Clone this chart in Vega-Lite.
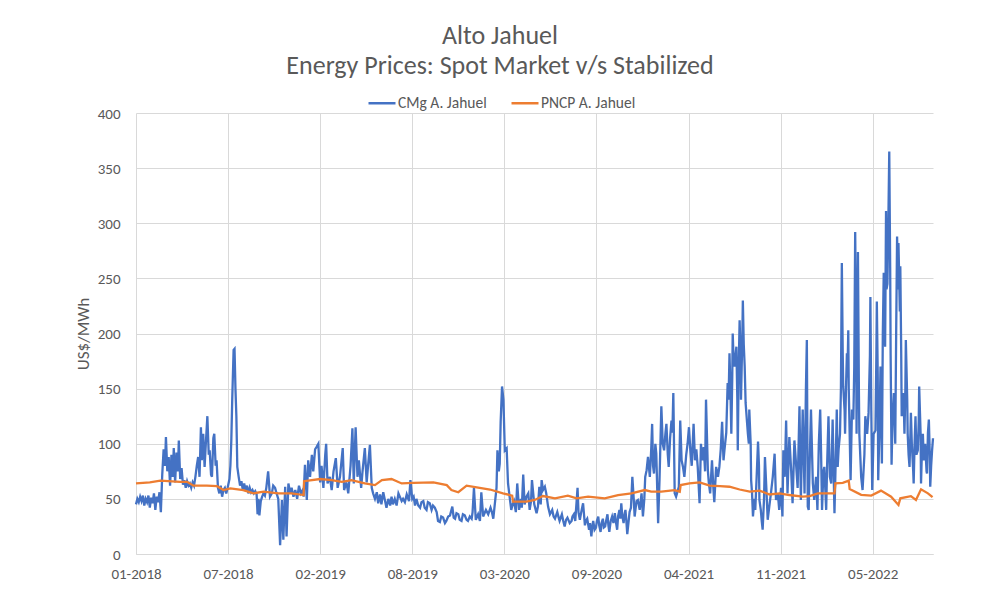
{
"$schema":"https://vega.github.io/schema/vega-lite/v6.json",
"width":797,"height":441,
"autosize":{"type":"none"},
"padding":{"left":136,"top":113,"right":59,"bottom":61},
"background":"white",
"config":{"font":"Carlito, Lato, sans-serif","view":{"stroke":null}},
"title":{"text":["Alto Jahuel","Energy Prices: Spot Market v/s Stabilized"],"anchor":"middle","frame":"group","fontSize":26,"fontWeight":"normal","color":"#595959","lineHeight":30,"dx":-34.5,"offset":9},
"datasets":{
"cmg":[
{"d":"2018-01-01","v":45},{"d":"2018-01-04","v":50},{"d":"2018-01-07","v":47},{"d":"2018-01-10","v":52},{"d":"2018-01-13","v":48},{"d":"2018-01-16","v":53},{"d":"2018-01-19","v":44},{"d":"2018-01-22","v":50},{"d":"2018-01-25","v":47},{"d":"2018-01-28","v":53},{"d":"2018-01-31","v":42},{"d":"2018-02-03","v":51},{"d":"2018-02-06","v":46},{"d":"2018-02-09","v":55},{"d":"2018-02-12","v":40},{"d":"2018-02-15","v":52},{"d":"2018-02-18","v":47},{"d":"2018-02-21","v":56},{"d":"2018-02-24","v":38},{"d":"2018-02-27","v":72},{"d":"2018-03-02","v":95},{"d":"2018-03-05","v":80},{"d":"2018-03-07","v":106},{"d":"2018-03-10","v":75},{"d":"2018-03-13","v":88},{"d":"2018-03-16","v":62},{"d":"2018-03-19","v":90},{"d":"2018-03-22","v":70},{"d":"2018-03-24","v":96},{"d":"2018-03-27","v":65},{"d":"2018-03-30","v":92},{"d":"2018-04-02","v":75},{"d":"2018-04-04","v":103},{"d":"2018-04-07","v":68},{"d":"2018-04-10","v":78},{"d":"2018-04-13","v":63},{"d":"2018-04-16","v":67},{"d":"2018-04-19","v":60},{"d":"2018-04-22","v":66},{"d":"2018-04-25","v":62},{"d":"2018-04-28","v":64},{"d":"2018-05-01","v":60},{"d":"2018-05-04","v":65},{"d":"2018-05-07","v":62},{"d":"2018-05-10","v":70},{"d":"2018-05-13","v":80},{"d":"2018-05-16","v":88},{"d":"2018-05-19","v":70},{"d":"2018-05-22","v":115},{"d":"2018-05-24","v":85},{"d":"2018-05-27","v":109},{"d":"2018-05-30","v":79},{"d":"2018-06-01","v":95},{"d":"2018-06-05","v":125},{"d":"2018-06-08","v":90},{"d":"2018-06-10","v":94},{"d":"2018-06-13","v":72},{"d":"2018-06-15","v":70},{"d":"2018-06-18","v":105},{"d":"2018-06-20","v":109},{"d":"2018-06-23","v":80},{"d":"2018-06-25","v":85},{"d":"2018-06-28","v":60},{"d":"2018-07-01","v":55},{"d":"2018-07-04","v":62},{"d":"2018-07-07","v":52},{"d":"2018-07-10","v":58},{"d":"2018-07-13","v":60},{"d":"2018-07-16","v":55},{"d":"2018-07-19","v":60},{"d":"2018-07-23","v":68},{"d":"2018-07-25","v":80},{"d":"2018-07-27","v":103},{"d":"2018-07-29","v":140},{"d":"2018-08-01","v":185},{"d":"2018-08-03","v":186},{"d":"2018-08-05","v":150},{"d":"2018-08-07","v":125},{"d":"2018-08-09","v":79},{"d":"2018-08-12","v":70},{"d":"2018-08-15","v":62},{"d":"2018-08-18","v":66},{"d":"2018-08-21","v":58},{"d":"2018-08-24","v":64},{"d":"2018-08-27","v":57},{"d":"2018-08-30","v":62},{"d":"2018-09-02","v":55},{"d":"2018-09-05","v":60},{"d":"2018-09-08","v":56},{"d":"2018-09-11","v":58},{"d":"2018-09-14","v":55},{"d":"2018-09-17","v":57},{"d":"2018-09-20","v":54},{"d":"2018-09-22","v":36},{"d":"2018-09-24","v":50},{"d":"2018-09-26","v":35},{"d":"2018-09-29","v":48},{"d":"2018-10-02","v":52},{"d":"2018-10-05","v":55},{"d":"2018-10-08","v":53},{"d":"2018-10-11","v":60},{"d":"2018-10-15","v":75},{"d":"2018-10-19","v":52},{"d":"2018-10-23","v":55},{"d":"2018-10-26","v":62},{"d":"2018-10-30","v":60},{"d":"2018-11-03","v":54},{"d":"2018-11-06","v":50},{"d":"2018-11-10","v":8},{"d":"2018-11-14","v":49},{"d":"2018-11-17","v":13},{"d":"2018-11-21","v":61},{"d":"2018-11-24","v":16},{"d":"2018-11-28","v":64},{"d":"2018-12-02","v":55},{"d":"2018-12-05","v":60},{"d":"2018-12-09","v":52},{"d":"2018-12-13","v":58},{"d":"2018-12-17","v":50},{"d":"2018-12-21","v":62},{"d":"2018-12-25","v":55},{"d":"2018-12-29","v":58},{"d":"2018-12-31","v":52},{"d":"2019-01-03","v":81},{"d":"2019-01-07","v":49},{"d":"2019-01-10","v":85},{"d":"2019-01-14","v":70},{"d":"2019-01-18","v":90},{"d":"2019-01-21","v":75},{"d":"2019-01-25","v":95},{"d":"2019-01-28","v":97},{"d":"2019-02-01","v":100},{"d":"2019-02-05","v":65},{"d":"2019-02-08","v":80},{"d":"2019-02-12","v":60},{"d":"2019-02-16","v":90},{"d":"2019-02-18","v":100},{"d":"2019-02-21","v":64},{"d":"2019-02-26","v":70},{"d":"2019-03-02","v":58},{"d":"2019-03-06","v":75},{"d":"2019-03-11","v":87},{"d":"2019-03-15","v":60},{"d":"2019-03-20","v":70},{"d":"2019-03-26","v":96},{"d":"2019-03-29","v":58},{"d":"2019-04-03","v":65},{"d":"2019-04-07","v":55},{"d":"2019-04-12","v":80},{"d":"2019-04-16","v":114},{"d":"2019-04-19","v":64},{"d":"2019-04-23","v":115},{"d":"2019-04-27","v":70},{"d":"2019-04-30","v":85},{"d":"2019-05-05","v":60},{"d":"2019-05-08","v":75},{"d":"2019-05-13","v":96},{"d":"2019-05-17","v":65},{"d":"2019-05-20","v":80},{"d":"2019-05-24","v":99},{"d":"2019-05-28","v":60},{"d":"2019-05-31","v":55},{"d":"2019-06-04","v":50},{"d":"2019-06-08","v":56},{"d":"2019-06-11","v":46},{"d":"2019-06-15","v":54},{"d":"2019-06-18","v":45},{"d":"2019-06-22","v":56},{"d":"2019-06-26","v":48},{"d":"2019-06-29","v":42},{"d":"2019-07-03","v":50},{"d":"2019-07-07","v":44},{"d":"2019-07-10","v":52},{"d":"2019-07-13","v":45},{"d":"2019-07-17","v":50},{"d":"2019-07-21","v":44},{"d":"2019-07-25","v":55},{"d":"2019-07-28","v":52},{"d":"2019-08-01","v":48},{"d":"2019-08-04","v":50},{"d":"2019-08-08","v":47},{"d":"2019-08-12","v":54},{"d":"2019-08-17","v":48},{"d":"2019-08-20","v":67},{"d":"2019-08-24","v":50},{"d":"2019-08-27","v":52},{"d":"2019-08-30","v":44},{"d":"2019-09-02","v":50},{"d":"2019-09-06","v":44},{"d":"2019-09-10","v":42},{"d":"2019-09-13","v":47},{"d":"2019-09-17","v":48},{"d":"2019-09-20","v":42},{"d":"2019-09-24","v":40},{"d":"2019-09-27","v":47},{"d":"2019-10-01","v":46},{"d":"2019-10-05","v":40},{"d":"2019-10-08","v":44},{"d":"2019-10-12","v":42},{"d":"2019-10-16","v":38},{"d":"2019-10-19","v":30},{"d":"2019-10-23","v":29},{"d":"2019-10-26","v":34},{"d":"2019-10-30","v":33},{"d":"2019-11-03","v":28},{"d":"2019-11-06","v":30},{"d":"2019-11-10","v":34},{"d":"2019-11-14","v":35},{"d":"2019-11-19","v":43},{"d":"2019-11-22","v":33},{"d":"2019-11-25","v":32},{"d":"2019-11-28","v":37},{"d":"2019-12-02","v":36},{"d":"2019-12-05","v":31},{"d":"2019-12-09","v":30},{"d":"2019-12-12","v":36},{"d":"2019-12-16","v":35},{"d":"2019-12-20","v":31},{"d":"2019-12-23","v":30},{"d":"2019-12-27","v":34},{"d":"2019-12-31","v":32},{"d":"2020-01-02","v":38},{"d":"2020-01-05","v":60},{"d":"2020-01-09","v":31},{"d":"2020-01-12","v":34},{"d":"2020-01-14","v":36},{"d":"2020-01-18","v":30},{"d":"2020-01-21","v":56},{"d":"2020-01-25","v":34},{"d":"2020-01-28","v":37},{"d":"2020-01-31","v":40},{"d":"2020-02-05","v":36},{"d":"2020-02-10","v":42},{"d":"2020-02-13","v":38},{"d":"2020-02-16","v":32},{"d":"2020-02-19","v":44},{"d":"2020-02-23","v":60},{"d":"2020-02-25","v":94},{"d":"2020-02-28","v":75},{"d":"2020-03-01","v":82},{"d":"2020-03-03","v":120},{"d":"2020-03-06","v":152},{"d":"2020-03-09","v":140},{"d":"2020-03-12","v":94},{"d":"2020-03-16","v":96},{"d":"2020-03-19","v":64},{"d":"2020-03-23","v":50},{"d":"2020-03-26","v":40},{"d":"2020-03-29","v":45},{"d":"2020-04-01","v":48},{"d":"2020-04-05","v":38},{"d":"2020-04-08","v":64},{"d":"2020-04-12","v":40},{"d":"2020-04-16","v":50},{"d":"2020-04-18","v":42},{"d":"2020-04-21","v":72},{"d":"2020-04-24","v":45},{"d":"2020-04-28","v":52},{"d":"2020-05-02","v":55},{"d":"2020-05-05","v":40},{"d":"2020-05-08","v":48},{"d":"2020-05-10","v":67},{"d":"2020-05-15","v":45},{"d":"2020-05-20","v":37},{"d":"2020-05-23","v":43},{"d":"2020-05-26","v":61},{"d":"2020-05-29","v":45},{"d":"2020-05-31","v":67},{"d":"2020-06-03","v":58},{"d":"2020-06-07","v":61},{"d":"2020-06-10","v":55},{"d":"2020-06-14","v":43},{"d":"2020-06-18","v":36},{"d":"2020-06-23","v":40},{"d":"2020-06-26","v":34},{"d":"2020-06-29","v":32},{"d":"2020-07-04","v":38},{"d":"2020-07-07","v":33},{"d":"2020-07-09","v":30},{"d":"2020-07-14","v":36},{"d":"2020-07-17","v":30},{"d":"2020-07-20","v":25},{"d":"2020-07-23","v":31},{"d":"2020-07-26","v":33},{"d":"2020-07-31","v":28},{"d":"2020-08-04","v":30},{"d":"2020-08-06","v":34},{"d":"2020-08-09","v":36},{"d":"2020-08-12","v":30},{"d":"2020-08-17","v":60},{"d":"2020-08-19","v":38},{"d":"2020-08-22","v":31},{"d":"2020-08-25","v":38},{"d":"2020-08-29","v":46},{"d":"2020-09-02","v":26},{"d":"2020-09-04","v":30},{"d":"2020-09-07","v":32},{"d":"2020-09-11","v":22},{"d":"2020-09-13","v":28},{"d":"2020-09-16","v":16},{"d":"2020-09-18","v":25},{"d":"2020-09-20","v":30},{"d":"2020-09-23","v":22},{"d":"2020-09-26","v":24},{"d":"2020-09-28","v":30},{"d":"2020-10-01","v":34},{"d":"2020-10-03","v":26},{"d":"2020-10-06","v":20},{"d":"2020-10-08","v":28},{"d":"2020-10-11","v":32},{"d":"2020-10-13","v":24},{"d":"2020-10-16","v":25},{"d":"2020-10-18","v":30},{"d":"2020-10-21","v":36},{"d":"2020-10-23","v":26},{"d":"2020-10-25","v":20},{"d":"2020-10-28","v":30},{"d":"2020-10-31","v":34},{"d":"2020-11-03","v":28},{"d":"2020-11-06","v":37},{"d":"2020-11-08","v":30},{"d":"2020-11-11","v":22},{"d":"2020-11-13","v":34},{"d":"2020-11-16","v":40},{"d":"2020-11-18","v":32},{"d":"2020-11-20","v":46},{"d":"2020-11-22","v":35},{"d":"2020-11-25","v":28},{"d":"2020-11-27","v":36},{"d":"2020-11-29","v":40},{"d":"2020-12-01","v":30},{"d":"2020-12-03","v":18},{"d":"2020-12-06","v":30},{"d":"2020-12-08","v":38},{"d":"2020-12-11","v":42},{"d":"2020-12-14","v":70},{"d":"2020-12-17","v":50},{"d":"2020-12-19","v":34},{"d":"2020-12-23","v":48},{"d":"2020-12-26","v":49},{"d":"2020-12-30","v":40},{"d":"2021-01-03","v":55},{"d":"2021-01-06","v":34},{"d":"2021-01-09","v":50},{"d":"2021-01-11","v":70},{"d":"2021-01-14","v":76},{"d":"2021-01-17","v":88},{"d":"2021-01-21","v":70},{"d":"2021-01-24","v":95},{"d":"2021-01-26","v":118},{"d":"2021-01-28","v":80},{"d":"2021-01-30","v":73},{"d":"2021-02-02","v":100},{"d":"2021-02-04","v":91},{"d":"2021-02-06","v":60},{"d":"2021-02-08","v":28},{"d":"2021-02-11","v":67},{"d":"2021-02-15","v":134},{"d":"2021-02-18","v":100},{"d":"2021-02-21","v":94},{"d":"2021-02-24","v":110},{"d":"2021-02-26","v":118},{"d":"2021-03-01","v":90},{"d":"2021-03-03","v":79},{"d":"2021-03-06","v":105},{"d":"2021-03-09","v":121},{"d":"2021-03-11","v":110},{"d":"2021-03-13","v":146},{"d":"2021-03-16","v":55},{"d":"2021-03-19","v":52},{"d":"2021-03-23","v":58},{"d":"2021-03-25","v":61},{"d":"2021-03-28","v":121},{"d":"2021-03-31","v":85},{"d":"2021-04-03","v":79},{"d":"2021-04-06","v":70},{"d":"2021-04-10","v":90},{"d":"2021-04-13","v":100},{"d":"2021-04-16","v":115},{"d":"2021-04-19","v":94},{"d":"2021-04-22","v":80},{"d":"2021-04-26","v":118},{"d":"2021-04-29","v":85},{"d":"2021-05-02","v":95},{"d":"2021-05-05","v":79},{"d":"2021-05-09","v":46},{"d":"2021-05-12","v":100},{"d":"2021-05-15","v":85},{"d":"2021-05-18","v":97},{"d":"2021-05-21","v":75},{"d":"2021-05-23","v":140},{"d":"2021-05-27","v":76},{"d":"2021-05-29","v":65},{"d":"2021-06-01","v":55},{"d":"2021-06-03","v":70},{"d":"2021-06-05","v":85},{"d":"2021-06-08","v":60},{"d":"2021-06-10","v":47},{"d":"2021-06-14","v":79},{"d":"2021-06-18","v":70},{"d":"2021-06-21","v":79},{"d":"2021-06-24","v":95},{"d":"2021-06-27","v":120},{"d":"2021-06-30","v":85},{"d":"2021-07-02","v":94},{"d":"2021-07-06","v":110},{"d":"2021-07-09","v":155},{"d":"2021-07-11","v":140},{"d":"2021-07-13","v":182},{"d":"2021-07-15","v":150},{"d":"2021-07-17","v":109},{"d":"2021-07-19","v":160},{"d":"2021-07-20","v":200},{"d":"2021-07-22","v":175},{"d":"2021-07-24","v":170},{"d":"2021-07-26","v":180},{"d":"2021-07-28","v":188},{"d":"2021-07-30","v":140},{"d":"2021-07-31","v":94},{"d":"2021-08-02","v":170},{"d":"2021-08-04","v":212},{"d":"2021-08-06","v":180},{"d":"2021-08-07","v":140},{"d":"2021-08-10","v":200},{"d":"2021-08-11","v":230},{"d":"2021-08-13","v":190},{"d":"2021-08-15","v":170},{"d":"2021-08-17","v":137},{"d":"2021-08-20","v":120},{"d":"2021-08-22","v":109},{"d":"2021-08-24","v":100},{"d":"2021-08-25","v":131},{"d":"2021-08-28","v":100},{"d":"2021-08-29","v":67},{"d":"2021-08-31","v":55},{"d":"2021-09-02","v":34},{"d":"2021-09-05","v":50},{"d":"2021-09-07","v":40},{"d":"2021-09-10","v":70},{"d":"2021-09-13","v":102},{"d":"2021-09-15","v":80},{"d":"2021-09-16","v":49},{"d":"2021-09-19","v":40},{"d":"2021-09-21","v":30},{"d":"2021-09-23","v":22},{"d":"2021-09-26","v":50},{"d":"2021-09-28","v":88},{"d":"2021-10-01","v":60},{"d":"2021-10-04","v":31},{"d":"2021-10-08","v":45},{"d":"2021-10-11","v":55},{"d":"2021-10-15","v":70},{"d":"2021-10-19","v":91},{"d":"2021-10-22","v":49},{"d":"2021-10-26","v":55},{"d":"2021-10-29","v":40},{"d":"2021-11-02","v":60},{"d":"2021-11-05","v":34},{"d":"2021-11-07","v":94},{"d":"2021-11-10","v":70},{"d":"2021-11-13","v":121},{"d":"2021-11-16","v":55},{"d":"2021-11-20","v":106},{"d":"2021-11-24","v":75},{"d":"2021-11-27","v":46},{"d":"2021-12-01","v":103},{"d":"2021-12-05","v":79},{"d":"2021-12-08","v":60},{"d":"2021-12-12","v":134},{"d":"2021-12-15","v":49},{"d":"2021-12-19","v":131},{"d":"2021-12-23","v":55},{"d":"2021-12-26","v":150},{"d":"2021-12-28","v":194},{"d":"2021-12-30","v":43},{"d":"2022-01-01","v":40},{"d":"2022-01-03","v":80},{"d":"2022-01-06","v":131},{"d":"2022-01-10","v":64},{"d":"2022-01-13","v":49},{"d":"2022-01-17","v":70},{"d":"2022-01-20","v":40},{"d":"2022-01-23","v":100},{"d":"2022-01-26","v":131},{"d":"2022-01-28","v":90},{"d":"2022-01-30","v":40},{"d":"2022-02-02","v":75},{"d":"2022-02-04","v":79},{"d":"2022-02-08","v":40},{"d":"2022-02-10","v":80},{"d":"2022-02-13","v":125},{"d":"2022-02-16","v":70},{"d":"2022-02-19","v":64},{"d":"2022-02-22","v":122},{"d":"2022-02-26","v":37},{"d":"2022-03-01","v":90},{"d":"2022-03-03","v":131},{"d":"2022-03-05","v":79},{"d":"2022-03-07","v":95},{"d":"2022-03-10","v":109},{"d":"2022-03-12","v":150},{"d":"2022-03-14","v":264},{"d":"2022-03-16","v":180},{"d":"2022-03-17","v":152},{"d":"2022-03-20","v":130},{"d":"2022-03-21","v":109},{"d":"2022-03-23","v":150},{"d":"2022-03-25","v":182},{"d":"2022-03-26","v":160},{"d":"2022-03-28","v":203},{"d":"2022-03-29","v":150},{"d":"2022-03-31","v":109},{"d":"2022-04-02","v":67},{"d":"2022-04-05","v":131},{"d":"2022-04-08","v":122},{"d":"2022-04-10","v":170},{"d":"2022-04-12","v":292},{"d":"2022-04-14","v":200},{"d":"2022-04-15","v":109},{"d":"2022-04-18","v":274},{"d":"2022-04-20","v":150},{"d":"2022-04-21","v":109},{"d":"2022-04-25","v":70},{"d":"2022-04-28","v":58},{"d":"2022-05-02","v":90},{"d":"2022-05-04","v":125},{"d":"2022-05-08","v":109},{"d":"2022-05-11","v":128},{"d":"2022-05-14","v":180},{"d":"2022-05-15","v":233},{"d":"2022-05-17","v":130},{"d":"2022-05-19","v":58},{"d":"2022-05-22","v":109},{"d":"2022-05-26","v":112},{"d":"2022-05-28","v":180},{"d":"2022-05-29","v":229},{"d":"2022-05-31","v":160},{"d":"2022-06-01","v":67},{"d":"2022-06-04","v":120},{"d":"2022-06-06","v":170},{"d":"2022-06-09","v":82},{"d":"2022-06-11","v":200},{"d":"2022-06-13","v":255},{"d":"2022-06-14","v":220},{"d":"2022-06-16","v":188},{"d":"2022-06-18","v":311},{"d":"2022-06-19","v":240},{"d":"2022-06-21","v":245},{"d":"2022-06-23","v":300},{"d":"2022-06-25","v":365},{"d":"2022-06-27","v":260},{"d":"2022-06-28","v":180},{"d":"2022-06-30","v":81},{"d":"2022-07-02","v":120},{"d":"2022-07-05","v":146},{"d":"2022-07-08","v":100},{"d":"2022-07-10","v":200},{"d":"2022-07-12","v":288},{"d":"2022-07-14","v":240},{"d":"2022-07-15","v":282},{"d":"2022-07-18","v":220},{"d":"2022-07-19","v":261},{"d":"2022-07-21","v":180},{"d":"2022-07-22","v":125},{"d":"2022-07-24","v":140},{"d":"2022-07-26","v":146},{"d":"2022-07-28","v":109},{"d":"2022-07-30","v":150},{"d":"2022-07-31","v":194},{"d":"2022-08-03","v":140},{"d":"2022-08-04","v":109},{"d":"2022-08-06","v":90},{"d":"2022-08-08","v":79},{"d":"2022-08-10","v":110},{"d":"2022-08-11","v":128},{"d":"2022-08-13","v":100},{"d":"2022-08-16","v":75},{"d":"2022-08-17","v":64},{"d":"2022-08-19","v":100},{"d":"2022-08-21","v":125},{"d":"2022-08-23","v":90},{"d":"2022-08-26","v":94},{"d":"2022-08-28","v":120},{"d":"2022-08-29","v":152},{"d":"2022-09-01","v":110},{"d":"2022-09-02","v":64},{"d":"2022-09-04","v":95},{"d":"2022-09-06","v":109},{"d":"2022-09-08","v":85},{"d":"2022-09-11","v":100},{"d":"2022-09-14","v":75},{"d":"2022-09-15","v":73},{"d":"2022-09-17","v":110},{"d":"2022-09-19","v":122},{"d":"2022-09-21","v":90},{"d":"2022-09-22","v":61},{"d":"2022-09-24","v":80},{"d":"2022-09-26","v":94},{"d":"2022-09-28","v":105}
],
"pncp":[
{"d":"2018-01-01","v":64},{"d":"2018-01-31","v":65},{"d":"2018-02-23","v":66.5},{"d":"2018-04-07","v":65.5},{"d":"2018-04-22","v":65.5},{"d":"2018-05-06","v":62},{"d":"2018-06-04","v":62},{"d":"2018-06-26","v":61.5},{"d":"2018-07-10","v":58},{"d":"2018-07-25","v":59.5},{"d":"2018-08-22","v":58},{"d":"2018-09-13","v":55},{"d":"2018-10-05","v":56.5},{"d":"2018-11-06","v":55},{"d":"2018-12-05","v":55},{"d":"2018-12-31","v":53.5},{"d":"2019-01-01","v":66},{"d":"2019-02-05","v":68},{"d":"2019-03-02","v":67},{"d":"2019-03-24","v":65.5},{"d":"2019-04-14","v":67},{"d":"2019-05-13","v":64},{"d":"2019-06-04","v":62.5},{"d":"2019-06-19","v":67},{"d":"2019-07-10","v":68},{"d":"2019-08-01","v":64},{"d":"2019-08-26","v":64.5},{"d":"2019-10-09","v":65},{"d":"2019-11-07","v":62.5},{"d":"2019-11-17","v":58},{"d":"2019-12-02","v":56},{"d":"2019-12-20","v":62},{"d":"2020-01-11","v":60.5},{"d":"2020-02-09","v":58.5},{"d":"2020-03-08","v":55},{"d":"2020-03-23","v":53.5},{"d":"2020-03-28","v":53},{"d":"2020-03-30","v":47.5},{"d":"2020-04-28","v":47.5},{"d":"2020-05-16","v":49},{"d":"2020-06-03","v":52.6},{"d":"2020-06-29","v":50.5},{"d":"2020-07-27","v":53},{"d":"2020-08-15","v":50.5},{"d":"2020-09-09","v":52},{"d":"2020-10-15","v":50.5},{"d":"2020-11-13","v":53.5},{"d":"2020-12-12","v":55},{"d":"2021-01-10","v":58},{"d":"2021-01-24","v":56.5},{"d":"2021-02-15","v":56.5},{"d":"2021-03-16","v":58},{"d":"2021-03-27","v":56.5},{"d":"2021-03-29","v":62.5},{"d":"2021-04-17","v":64},{"d":"2021-05-09","v":65},{"d":"2021-05-31","v":62},{"d":"2021-06-22","v":61.5},{"d":"2021-07-13","v":61},{"d":"2021-08-04","v":58.5},{"d":"2021-08-26","v":56.5},{"d":"2021-09-16","v":57.5},{"d":"2021-10-08","v":54},{"d":"2021-10-30","v":55},{"d":"2021-11-20","v":53.5},{"d":"2021-12-19","v":52},{"d":"2022-01-03","v":52.5},{"d":"2022-01-21","v":55},{"d":"2022-02-04","v":55},{"d":"2022-02-26","v":55},{"d":"2022-02-28","v":64},{"d":"2022-03-16","v":64.5},{"d":"2022-03-29","v":66.5},{"d":"2022-03-31","v":59},{"d":"2022-04-25","v":53.7},{"d":"2022-05-17","v":53},{"d":"2022-06-07","v":57.5},{"d":"2022-06-29","v":52},{"d":"2022-07-15","v":44.5},{"d":"2022-07-19","v":50.5},{"d":"2022-08-11","v":52.5},{"d":"2022-08-22","v":49},{"d":"2022-09-02","v":58.7},{"d":"2022-09-17","v":55},{"d":"2022-09-27","v":51.5}
]
},
"encoding":{
"x":{"field":"d","type":"temporal","title":null,
"scale":{"domain":[{"year":2018,"month":1,"date":1},{"year":2022,"month":9,"date":28}]},
"axis":{"values":[{"year":2018,"month":1,"date":1},{"year":2018,"month":7,"date":20},{"year":2019,"month":2,"date":5},{"year":2019,"month":8,"date":24},{"year":2020,"month":3,"date":11},{"year":2020,"month":9,"date":27},{"year":2021,"month":4,"date":15},{"year":2021,"month":11,"date":1},{"year":2022,"month":5,"date":20}],
"format":"%m-%Y","grid":true,"gridColor":"#D9D9D9","domainColor":"#D9D9D9","ticks":false,"labelPadding":12,"labelFontSize":15,"labelColor":"#595959","labelOverlap":false,"labelFlush":false}},
"y":{"field":"v","type":"quantitative","title":"US$/MWh",
"scale":{"domain":[0,400],"nice":false},
"axis":{"values":[0,50,100,150,200,250,300,350,400],"grid":true,"gridColor":"#D9D9D9","domain":false,"ticks":false,"labelPadding":16,"labelFontSize":15,"labelColor":"#595959","titleFontSize":17,"titleFontWeight":"normal","titleColor":"#595959","titlePadding":5}}
},
"layer":[
{"data":{"name":"cmg"},"mark":{"type":"line","strokeWidth":2.3,"interpolate":"linear"},"encoding":{"color":{"datum":"CMg A. Jahuel","type":"nominal",
"scale":{"domain":["CMg A. Jahuel","PNCP A. Jahuel"],"range":["#4472C4","#ED7D31"]},
"legend":{"orient":"none","legendX":231,"legendY":-25,"direction":"horizontal","title":null,"symbolType":"stroke","symbolSize":729,"symbolStrokeWidth":2.5,"labelFontSize":15.5,"labelColor":"#595959","columnPadding":19,"labelOffset":1}}}},
{"data":{"name":"pncp"},"mark":{"type":"line","strokeWidth":2.3},"encoding":{"color":{"datum":"PNCP A. Jahuel","type":"nominal"}}}
]
}
